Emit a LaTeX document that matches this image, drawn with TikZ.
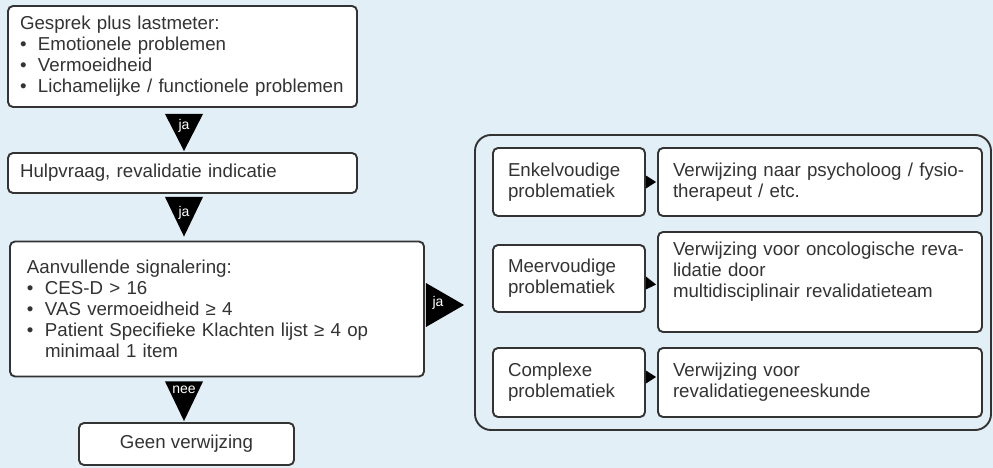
\documentclass[tikz,border=0pt]{standalone}
\usepackage{fontspec}
\setmainfont{Liberation Sans}
\usetikzlibrary{calc}
\definecolor{bg}{HTML}{E2EFF7}
\definecolor{edge}{HTML}{333333}
\definecolor{txt}{HTML}{333333}
\newcommand{\bul}{\makebox[18pt][l]{\textbullet}}
\newcommand{\cont}{\hspace*{18pt}}
\begin{document}
\begin{tikzpicture}[x=1pt,y=-1pt,
  box/.style={draw=edge, line width=1.9pt, fill=white, rounded corners=5pt,
    text=txt, font=\fontsize{18.7}{21}\selectfont, align=left},
  tri/.style={fill=black},
  trilab/.style={text=white, font=\fontsize{14}{14}\selectfont, inner sep=0pt}]
\useasboundingbox (0,0) rectangle (993,468);
\fill[bg] (0,0) rectangle (993,468);

% left column
\node[box, minimum width=349pt, minimum height=101pt, text width=325pt, inner xsep=12pt, inner ysep=0pt] (b1) at (182.5,56.5)
  {Gesprek plus lastmeter:\\ \bul Emotionele problemen\\ \bul Vermoeidheid\\ \bul Lichamelijke / functionele problemen};
\node[box, minimum width=349pt, minimum height=40pt, text width=325pt, inner xsep=12pt, inner ysep=0pt] (b2) at (182.5,173)
  {Hulpvraag, revalidatie indicatie};
\node[box, minimum width=414pt, minimum height=135pt, text width=380pt, inner xsep=17pt, inner ysep=0pt] (b3) at (217,309)
  {Aanvullende signalering:\\ \bul CES-D > 16\\ \bul VAS vermoeidheid ≥ 4\\ \bul Patient Specifieke Klachten lijst ≥ 4 op\\ \cont minimaal 1 item};
\node[box, minimum width=215pt, minimum height=42pt, align=center, inner sep=0pt] (geen) at (186.5,444)
  {Geen verwijzing};

% container
\node[draw=edge, line width=1.9pt, rounded corners=16pt, minimum width=516pt, minimum height=295pt, inner sep=0pt] (cont) at (733,282.5) {};

% right column
\node[box, minimum width=152pt, minimum height=68pt, text width=122pt, inner xsep=15pt, inner ysep=0pt] (enk) at (569,182)
  {Enkelvoudige\\ problematiek};
\node[box, minimum width=152pt, minimum height=67pt, text width=122pt, inner xsep=15pt, inner ysep=0pt] (meer) at (569,278.5)
  {Meervoudige\\ problematiek};
\node[box, minimum width=152pt, minimum height=69pt, text width=122pt, inner xsep=15pt, inner ysep=0pt] (comp) at (569,382.5)
  {Complexe\\ problematiek};
\node[box, minimum width=324pt, minimum height=68pt, text width=294pt, inner xsep=15pt, inner ysep=0pt] (r1) at (820,182)
  {Verwijzing naar psycholoog / fysio-\\ therapeut / etc.};
\node[box, minimum width=324pt, minimum height=100pt, text width=294pt, inner xsep=15pt, inner ysep=0pt] (r2) at (820,282)
  {Verwijzing voor oncologische reva-\\ lidatie door\\ multidisciplinair revalidatieteam\\[3pt]~};
\node[box, minimum width=324pt, minimum height=69pt, text width=294pt, inner xsep=15pt, inner ysep=0pt] (r3) at (820,382.5)
  {Verwijzing voor\\ revalidatiegeneeskunde};

% down triangles
\fill[tri] ($(b1.south)+(-17.5,6)$) -- ($(b1.south)+(20.5,6)$) -- ($(b2.north)+(1.5,-1)$) -- cycle;
\node[trilab] (ja1) at ($(b1.south)+(1.5,18)$) {ja};
\fill[tri] ($(b2.south)+(-17.5,3)$) -- ($(b2.south)+(20.5,3)$) -- ($(b3.north)+(-33,-4)$) -- cycle;
\node[trilab] (ja2) at ($(b2.south)+(1.5,19)$) {ja};
\fill[tri] ($(b3.south)+(-52,4)$) -- ($(b3.south)+(-14,4)$) -- ($(geen.north)+(-2.5,-1)$) -- cycle;
\node[trilab] (nee) at ($(b3.south)+(-33,12)$) {nee};

% right triangle
\fill[tri] ($(b3.east)+(1,-26)$) -- ($(b3.east)+(1,18)$) -- ($(cont.west)+(-10,22.5)$) -- cycle;
\node[trilab] (ja3) at ($(b3.east)+(13,-6)$) {ja};

% small arrows
\fill[tri] ($(enk.east)+(0,-6.5)$) -- ($(enk.east)+(0,6.5)$) -- ($(r1.west)+(-1,0)$) -- cycle;
\fill[tri] ($(meer.east)+(0,-2)$) -- ($(meer.east)+(0,11)$) -- ($(r2.west)+(-1,2.5)$) -- cycle;
\fill[tri] ($(comp.east)+(0,-12)$) -- ($(comp.east)+(0,1)$) -- ($(r3.west)+(-1,-5.5)$) -- cycle;
\end{tikzpicture}
\end{document}
